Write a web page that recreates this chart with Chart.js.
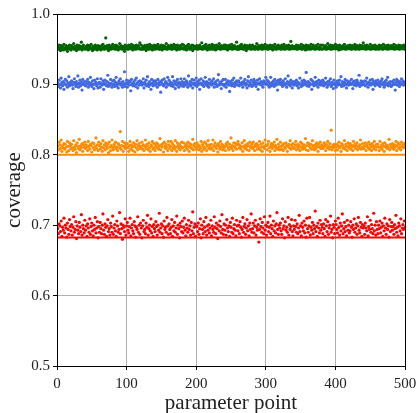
<!DOCTYPE html>
<html>
<head>
<meta charset="utf-8">
<script src="https://cdn.jsdelivr.net/npm/chart.js@4"></script>
<style>
  html, body { margin: 0; padding: 0; background: #fff; }
  #wrap { width: 418px; height: 413px; }
</style>
</head>
<body>
<div id="wrap"><canvas id="chart"></canvas></div>
<script>
// coverage per parameter point, in thousandths
const redCov = [
695,688,702,699,691,706,684,697,693,710,689,700,696,683,703,694,687,708,698,692,
701,686,697,712,690,694,705,681,699,693,688,704,697,691,715,686,700,695,689,707,
693,699,684,702,696,690,709,687,698,703,692,685,700,694,711,689,696,705,682,698,
690,704,695,688,700,716,693,687,702,697,684,699,708,691,695,686,703,698,690,713,
687,696,701,692,684,706,699,690,694,718,688,702,695,680,700,697,691,709,686,699,
704,693,689,698,710,685,696,701,692,688,705,699,683,697,694,712,690,700,687,703,
696,682,699,707,691,694,688,703,697,714,686,695,700,692,709,689,698,684,701,695,
691,705,698,686,700,693,717,690,696,702,688,699,683,706,694,697,690,711,699,687,
702,694,688,697,708,684,699,692,704,690,696,713,687,700,695,682,703,698,691,706,
689,697,710,693,685,701,696,690,707,694,699,686,704,692,719,688,697,702,684,699,
698,691,703,687,695,709,682,700,694,688,705,697,691,711,686,699,693,701,689,696,
707,685,699,694,690,712,697,688,703,695,681,700,692,706,698,689,715,694,687,702,
693,700,686,708,696,691,699,684,704,697,690,710,688,695,701,693,685,707,699,692,
700,688,705,697,683,694,711,690,698,702,687,696,708,692,699,685,703,694,716,690,
695,703,689,699,707,686,697,693,701,676,694,709,698,690,704,696,688,712,693,700,
686,698,704,691,697,713,688,700,695,684,706,692,699,689,702,718,694,687,700,696,
703,692,687,709,695,699,682,705,693,697,690,711,686,701,694,698,708,691,685,699,
694,707,698,690,702,688,696,714,691,699,685,703,697,692,706,689,700,683,710,695,
690,699,711,686,697,693,704,688,700,695,720,691,698,684,703,696,689,707,693,701,
697,688,702,695,684,708,699,691,705,687,696,700,713,690,694,682,701,697,688,706,
701,694,689,710,697,686,703,692,699,716,688,695,704,691,698,685,707,693,700,689,
692,705,697,683,700,694,709,690,696,702,687,699,711,693,689,704,697,684,701,696,
699,687,703,696,692,712,685,698,694,707,690,701,695,688,717,692,700,686,705,694,
688,700,695,706,689,697,703,684,699,692,710,696,687,702,694,699,683,708,691,698,
704,693,698,687,701,695,714,690,697,685,703,699,692,709,688,696,701,694,706,697
];
const orangeCov = [
812,807,818,814,809,821,805,813,810,816,808,815,811,804,819,812,806,817,813,809,
815,810,806,820,811,808,814,803,817,812,809,822,807,813,810,816,805,814,811,818,
809,814,811,806,819,812,808,815,813,804,817,810,816,807,812,824,809,814,806,818,
813,808,816,811,805,820,810,814,807,817,812,809,815,803,818,811,806,813,821,810,
807,815,812,818,809,811,806,816,814,810,833,808,813,819,805,812,817,809,814,811,
816,810,805,813,819,808,814,811,806,817,812,804,815,810,820,807,813,816,809,812,
811,818,808,814,806,812,821,809,815,813,807,817,810,805,814,812,819,808,816,810,
806,813,817,810,815,808,812,823,807,814,811,816,804,818,812,809,815,811,806,819,
814,809,812,819,806,816,810,813,808,820,811,805,817,813,809,815,807,812,818,810,
810,817,806,813,811,815,808,818,812,805,816,810,814,809,822,807,813,816,811,808,
817,811,814,807,812,809,819,805,815,812,808,818,810,816,806,813,820,809,814,811,
808,815,810,821,806,813,817,811,809,814,804,816,812,808,819,811,815,807,813,810,
812,806,816,813,818,810,807,815,811,824,809,813,806,817,812,810,816,808,814,819,
815,810,813,808,811,817,805,812,820,809,814,811,807,816,813,806,818,810,812,815,
809,818,811,806,814,812,816,808,813,810,819,807,815,811,805,817,812,809,821,813,
813,807,815,819,810,805,812,816,809,814,811,818,806,813,810,822,808,815,811,807,
818,812,808,814,806,816,811,809,817,813,805,812,815,810,820,808,814,811,816,809,
810,814,819,807,812,815,809,813,806,818,811,816,808,812,814,810,823,807,813,817,
806,816,812,810,815,808,820,813,811,807,814,809,817,812,805,815,811,818,809,813,
814,809,811,817,813,806,815,810,819,812,808,816,811,835,807,813,810,815,812,806,
811,815,807,813,818,810,812,805,816,814,809,811,820,808,815,812,806,817,810,813,
816,808,814,811,806,819,812,815,809,813,817,807,812,810,814,821,808,811,816,809,
809,813,817,806,812,815,810,818,808,814,811,806,816,813,809,819,812,807,815,811,
815,811,806,819,810,813,808,816,812,805,817,811,814,809,813,810,822,807,815,812,
810,816,812,808,814,811,819,806,813,817,809,815,811,807,818,812,814,810,816,813
];
const blueCov = [
902,897,906,900,895,909,903,898,904,893,901,907,899,905,896,902,911,898,903,900,
905,899,894,903,908,901,897,904,900,912,896,902,906,898,903,892,907,900,904,899,
898,904,901,907,896,903,899,910,902,897,905,900,894,906,901,903,898,908,895,902,
903,896,908,901,899,905,893,902,906,900,898,904,913,897,902,899,907,901,896,905,
900,906,897,903,910,898,902,895,905,901,908,899,903,896,904,900,918,897,902,906,
896,902,905,899,904,891,907,901,898,903,900,906,897,909,902,895,904,899,905,901,
904,899,902,908,895,903,900,906,898,911,901,897,904,900,893,907,902,898,905,903,
899,905,901,896,907,902,899,904,889,903,906,900,898,908,901,904,896,902,910,899,
906,900,903,898,902,911,897,905,901,894,904,899,907,902,896,903,900,908,898,904,
901,897,908,903,899,905,902,896,912,900,904,898,903,907,895,901,906,899,902,909,
897,904,900,906,893,902,908,901,899,905,897,903,910,900,904,898,902,896,907,901,
903,899,905,901,908,896,902,904,900,897,906,914,899,903,901,894,905,900,907,898,
900,907,896,903,901,905,899,890,904,902,898,906,901,909,897,903,900,905,899,904,
905,898,902,909,900,903,896,904,901,907,899,902,895,905,911,898,903,900,906,897,
898,903,907,900,904,897,901,906,893,902,908,900,904,899,903,896,905,901,902,910,
902,906,899,904,896,901,910,898,903,900,905,897,907,902,899,904,892,906,901,903,
907,900,903,897,905,902,899,908,901,896,904,912,900,903,898,906,901,895,904,900,
899,904,901,906,898,903,895,902,909,900,897,905,902,899,906,901,904,917,898,903,
904,897,902,900,907,893,905,901,898,903,910,899,904,902,896,906,900,903,899,905,
901,906,898,903,900,909,902,896,904,899,905,901,908,897,903,900,894,906,902,899,
896,903,905,899,902,906,900,911,897,904,901,898,903,907,900,895,905,902,899,904,
903,900,907,901,894,904,899,905,902,898,906,903,900,913,897,902,905,899,904,901,
900,905,898,904,909,901,896,903,900,906,899,902,907,893,904,901,898,905,902,900,
906,899,903,897,901,905,908,900,902,896,904,899,906,901,910,898,903,900,904,897,
898,904,901,906,900,892,903,907,899,905,902,897,904,900,908,901,905,899,903,902
];
const greenCov = [
953,950,956,952,948,955,951,954,949,957,952,950,955,953,947,954,951,956,952,949,
955,951,953,958,950,954,952,948,956,953,950,955,951,954,960,949,953,956,951,952,
950,954,952,956,949,953,955,951,957,952,948,954,953,950,956,952,954,949,955,951,
954,952,949,955,951,957,953,950,954,966,951,955,952,948,956,953,950,954,952,957,
951,955,953,950,956,952,954,949,953,958,951,955,952,950,954,953,947,956,951,954,
953,950,956,952,954,951,957,953,949,955,952,954,950,956,953,951,955,952,959,950,
956,952,950,954,951,955,953,948,956,952,954,950,957,953,951,955,949,954,952,956,
950,954,955,951,957,953,950,954,952,956,949,953,955,951,954,952,958,950,953,955,
954,951,953,956,950,954,952,957,951,955,953,949,956,952,954,950,955,953,951,957,
952,956,950,954,953,949,955,951,957,953,950,954,952,956,948,955,953,951,954,952,
955,950,954,952,956,951,953,959,950,954,952,955,951,957,953,949,954,952,956,950,
951,954,957,950,953,955,952,949,956,953,951,954,958,952,950,955,953,951,954,956,
953,956,951,955,949,954,952,956,951,953,957,950,954,952,955,951,953,960,950,954,
950,953,955,952,957,951,954,950,953,956,952,948,955,953,951,954,956,952,950,955,
956,951,953,950,954,952,958,953,950,955,951,954,952,956,950,953,955,951,957,952,
952,955,950,954,951,956,953,951,955,949,954,952,957,953,950,954,952,956,951,953,
954,950,956,952,953,957,950,954,952,955,951,953,956,950,954,961,952,955,951,953,
951,954,952,956,950,953,955,951,954,952,957,950,953,955,952,954,949,956,953,950,
955,952,954,950,957,951,953,956,952,954,950,955,951,953,957,952,950,954,956,951,
950,956,951,954,952,955,950,953,958,951,954,952,956,950,953,955,951,954,952,957,
953,951,955,952,949,956,953,950,954,952,955,951,957,953,950,954,952,955,951,953,
956,952,950,955,953,951,954,957,950,953,955,952,954,950,956,953,951,955,952,959,
952,955,953,950,956,952,954,951,953,957,950,954,952,955,951,953,956,950,954,952,
954,950,956,953,951,955,952,950,957,953,954,951,955,952,950,956,953,951,954,955,
951,954,952,957,950,953,955,951,954,952,956,950,953,955,952,951,954,956,953,950
];
// nominal coverage levels (horizontal lines)
const nominal = [0.6827, 0.80, 0.90, 0.95];
const colors = ["#ff0000", "#ff8c00", "#4169e1", "#006400"];
const xTicks = [0, 100, 200, 300, 400, 500];
const yTicks = [0.5, 0.6, 0.7, 0.8, 0.9, 1.0];

const serif = "'Liberation Serif', 'DejaVu Serif', serif";

function toPoints(arr) {
    return arr.map((v, i) => ({ x: i + 1, y: v / 1000 }));
}

const series = [redCov, orangeCov, blueCov, greenCov];
const datasets = [];
series.forEach((s, k) => {
    datasets.push({
        type: "scatter", data: toPoints(s),
        backgroundColor: colors[k], borderWidth: 0,
        pointRadius: 1.6, pointHoverRadius: 1.6, order: 2
    });
    datasets.push({
        type: "line",
        data: [{ x: xTicks[0], y: nominal[k] }, { x: xTicks[xTicks.length - 1], y: nominal[k] }],
        borderColor: colors[k], borderWidth: 2, pointRadius: 0, order: 1
    });
});

// frame around the plot area, like matplotlib spines
const frame = {
    id: "frame",
    afterDraw(chart) {
        const { ctx, chartArea: a } = chart;
        ctx.save();
        ctx.strokeStyle = "#000";
        ctx.lineWidth = 1;
        ctx.strokeRect(Math.round(a.left) + 0.5, Math.round(a.top) + 0.5,
                       Math.round(a.right - a.left), Math.round(a.bottom - a.top));
        ctx.restore();
    }
};

new Chart(document.getElementById("chart"), {
    data: { datasets },
    plugins: [frame],
    options: {
        responsive: true,
        maintainAspectRatio: false,
        animation: false,
        layout: { padding: { left: 0, right: 13, top: 14, bottom: 0 } },
        plugins: { legend: { display: false }, tooltip: { enabled: false } },
        scales: {
            x: {
                type: "linear", min: 0, max: 500,
                afterBuildTicks: (s) => { s.ticks = xTicks.map(v => ({ value: v })); },
                afterFit: (s) => { s.height = 47; s.paddingLeft = 0; s.paddingRight = 0; },
                grid: { color: "#b0b0b0", tickColor: "#000", tickLength: 4, drawTicks: true },
                border: { color: "#000" },
                ticks: { color: "#222", font: { family: serif, size: 15 }, padding: 5, maxRotation: 0 },
                title: { display: true, text: "parameter point", color: "#222",
                         font: { family: serif, size: 21 }, padding: { top: 1, bottom: -3 } }
            },
            y: {
                min: 0.5, max: 1.0,
                afterBuildTicks: (s) => { s.ticks = yTicks.map(v => ({ value: v })); },
                afterFit: (s) => { s.width = 57; s.paddingTop = 0; s.paddingBottom = 0; },
                grid: { color: "#b0b0b0", tickColor: "#000", tickLength: 4 },
                border: { color: "#000" },
                ticks: { color: "#222", font: { family: serif, size: 15 }, padding: 3,
                         callback: (v) => v.toFixed(1) },
                title: { display: true, text: "coverage", color: "#222",
                         font: { family: serif, size: 21 }, padding: { top: 2, bottom: 0 } }
            }
        }
    }
});
</script>
</body>
</html>
